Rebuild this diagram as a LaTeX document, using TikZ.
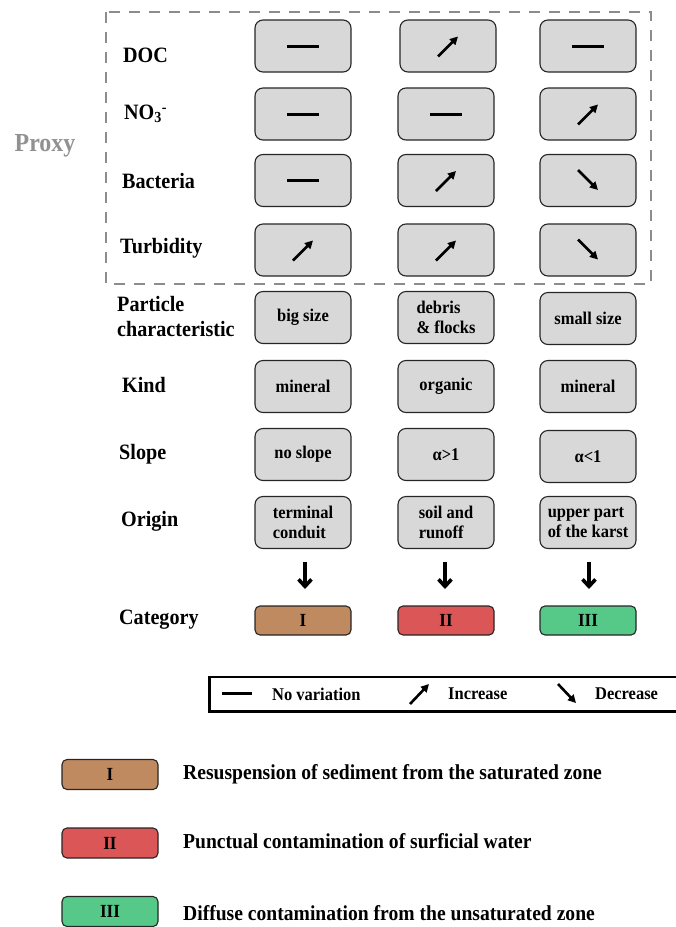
\documentclass[tikz,border=0pt]{standalone}
\usepackage{fontspec}
\setmainfont{Liberation Serif}[FakeStretch=0.92]
\usetikzlibrary{arrows.meta,calc}

\definecolor{boxgray}{RGB}{216,216,216}
\definecolor{dashgray}{RGB}{140,140,140}
\definecolor{proxygray}{RGB}{145,145,145}
\definecolor{catI}{RGB}{192,138,96}
\definecolor{catII}{RGB}{219,86,86}
\definecolor{catIII}{RGB}{86,200,136}

\tikzset{
  cell/.style={draw=black!85, line width=1.1pt, fill=boxgray, rounded corners=8pt,
    minimum width=96pt, minimum height=52pt, inner sep=2pt,
    font=\fontsize{17.9}{20}\selectfont\bfseries, align=left},
  catbox/.style={draw=black!85, line width=1.1pt, rounded corners=5pt,
    minimum width=96pt, minimum height=29pt, inner sep=1pt,
    font=\fontsize{18.5}{20}\selectfont\bfseries},
  rowlabel/.style={anchor=west, inner sep=0pt, align=left,
    font=\fontsize{21.9}{25}\selectfont\bfseries},
  keytext/.style={anchor=west, inner sep=0pt, font=\fontsize{17.9}{20}\selectfont\bfseries},
  legtext/.style={anchor=west, inner sep=0pt, font=\fontsize{21.3}{23}\selectfont\bfseries},
  flat/.style={line width=3pt},
  trend/.style={line width=2.6pt, -{Triangle[length=8pt,width=8pt]}},
  down/.style={line width=3.6pt, -{Straight Barb[length=7pt,width=13pt,line width=3.6pt]}},
}

\newcommand{\flatsign}[1]{\draw[flat] ($(#1)+(-16,0)$) -- ($(#1)+(16,0)$);}
\newcommand{\upsign}[1]{\draw[trend] ($(#1)+(-10,10.5)$) -- ($(#1)+(10,-9.5)$);}
\newcommand{\downsign}[1]{\draw[trend] ($(#1)+(-10,-10.5)$) -- ($(#1)+(10,9.5)$);}

\begin{document}
\begin{tikzpicture}[x=1pt,y=-1pt]
\useasboundingbox (0,0) rectangle (676,927);
\clip (0,0) rectangle (676,927);

% proxy group frame and title
\draw[dashgray, line width=2.6pt, dash pattern=on 11pt off 9pt] (106,12) rectangle (651,284);
\node[font=\fontsize{26}{28}\selectfont\bfseries, text=proxygray] (proxy) at (45,146) {Proxy};

% row labels
\node[rowlabel] (lDOC) at (123,55) {DOC};
\node[rowlabel] (lNO) at (124,114) {NO\textsubscript{3}\textsuperscript{-}};
\node[rowlabel] (lBac) at (122,181) {Bacteria};
\node[rowlabel] (lTur) at (120,248) {Turbidity};
\node[rowlabel] (lPar) at (117,317) {Particle\\characteristic};
\node[rowlabel] (lKin) at (122,385) {Kind};
\node[rowlabel] (lSlo) at (119,454) {Slope};
\node[rowlabel] (lOri) at (121,521) {Origin};
\node[rowlabel] (lCat) at (119,620) {Category};

% proxy cells
\node[cell] (a1) at (303,46) {};
\node[cell] (b1) at (448,46) {};
\node[cell] (c1) at (588,46) {};
\node[cell] (a2) at (303,114) {};
\node[cell] (b2) at (446,114) {};
\node[cell] (c2) at (588,114) {};
\node[cell] (a3) at (303,180.5) {};
\node[cell] (b3) at (446,180.5) {};
\node[cell] (c3) at (588,180.5) {};
\node[cell] (a4) at (303,250) {};
\node[cell] (b4) at (446,250) {};
\node[cell] (c4) at (588,250) {};

\flatsign{a1} \upsign{b1} \flatsign{c1}
\flatsign{a2} \flatsign{b2} \upsign{c2}
\flatsign{a3} \upsign{b3} \downsign{c3}
\upsign{a4} \upsign{b4} \downsign{c4}

% particle description cells
\node[cell] (a5) at (303,317.5) {big size};
\node[cell] (b5) at (446,317.5) {debris\\\& flocks};
\node[cell] (c5) at (588,318.5) {small size};
\node[cell] (a6) at (303,386.5) {mineral};
\node[cell] (b6) at (446,386.5) {organic};
\node[cell] (c6) at (588,386.5) {mineral};
\node[cell] (a7) at (303,454.5) {no slope};
\node[cell] (b7) at (446,454.5) {α>1};
\node[cell] (c7) at (588,456.5) {α<1};
\node[cell] (a8) at (303,522.5) {terminal\\conduit};
\node[cell] (b8) at (446,522.5) {soil and\\runoff};
\node[cell] (c8) at (588,522.5) {upper part\\of the karst};

% categories
\node[catbox, fill=catI] (k1) at (303,620.5) {I};
\node[catbox, fill=catII] (k2) at (446,620.5) {II};
\node[catbox, fill=catIII] (k3) at (588,620.5) {III};

\coordinate (d1) at (305,562);
\coordinate (d2) at (445,562);
\coordinate (d3) at (589,562);
\draw[down] (d1) -- ++(0,27);
\draw[down] (d2) -- ++(0,27);
\draw[down] (d3) -- ++(0,27);

% key to the trend symbols
\node[draw=black, line width=1.3pt, minimum width=480pt, minimum height=34pt, inner sep=0pt] (key) at (450,694) {};
\draw[line width=1.2pt] ($(key.south west)+(-1,1)$) -- ($(key.north west)+(-1,0)$);
\draw[line width=1.2pt] ($(key.south west)+(-1,1)$) -- ($(key.south east)+(0,1)$);
\coordinate (kf) at (237,693);
\draw[flat] ($(kf)+(-15,0)$) -- ($(kf)+(15,0)$);
\node[keytext] (kt1) at (272,694) {No variation};
\draw[trend] (410,704) -- (429,684);
\node[keytext] (kt2) at (448,694) {Increase};
\draw[trend] (558,684) -- (576,703);
\node[keytext] (kt3) at (595,694) {Decrease};

% category legend
\node[catbox, fill=catI, minimum height=30pt] (g1) at (110,774.5) {I};
\node[catbox, fill=catII, minimum height=30pt] (g2) at (110,843) {II};
\node[catbox, fill=catIII, minimum height=30pt] (g3) at (110,911.5) {III};
\node[legtext] (t1) at (183,774) {Resuspension of sediment from the saturated zone};
\node[legtext] (t2) at (183,841) {Punctual contamination of surficial water};
\node[legtext] (t3) at (183,913) {Diffuse contamination from the unsaturated zone};
\end{tikzpicture}
\end{document}
